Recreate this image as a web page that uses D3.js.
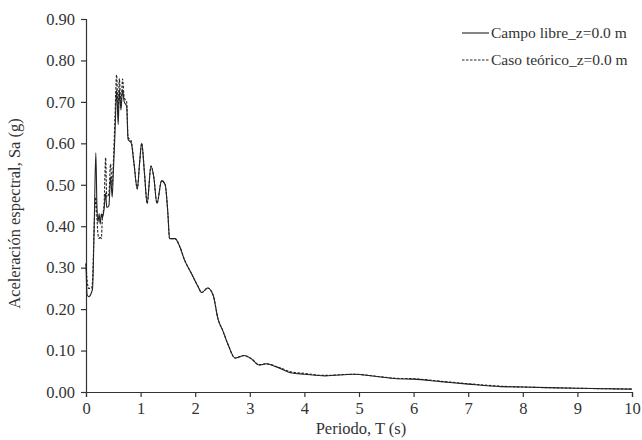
<!DOCTYPE html>
<html>
<head>
<meta charset="utf-8">
<script src="https://cdn.jsdelivr.net/npm/d3@7"></script>
<style>
  body { margin: 0; background: #fff; }
  text { font-family: "Liberation Serif", "DejaVu Serif", serif; fill: #333; }
</style>
</head>
<body>
<svg id="chart" width="642" height="440"></svg>
<script>
// periodo T (s)
const periods = [0, 0.02, 0.05, 0.1, 0.12, 0.15, 0.18, 0.2, 0.22, 0.24, 0.26, 0.28, 0.3, 0.33, 0.36, 0.38, 0.42, 0.45, 0.48, 0.5,
  0.53, 0.56, 0.59, 0.61, 0.64, 0.67, 0.7, 0.745, 0.77, 0.83, 0.88, 0.94, 0.98, 1.02, 1.07, 1.12, 1.19, 1.24, 1.3, 1.385,
  1.45, 1.5, 1.53, 1.63, 1.72, 1.8, 1.935, 2.05, 2.12, 2.23, 2.33, 2.42, 2.5, 2.6, 2.73, 2.9, 3.03, 3.17, 3.3, 3.5,
  3.77, 4.0, 4.38, 4.9, 5.3, 5.69, 6.0, 6.5, 7.0, 7.6, 8.0, 9.0, 10.0];

// Sa (g) - campo libre
const campoLibre = [0.31, 0.235, 0.23, 0.24, 0.25, 0.40, 0.577, 0.45, 0.41, 0.43, 0.405, 0.43, 0.42, 0.44, 0.48, 0.445, 0.45, 0.52, 0.47, 0.53,
  0.62, 0.73, 0.645, 0.73, 0.68, 0.73, 0.70, 0.69, 0.61, 0.60, 0.55, 0.49, 0.55, 0.60, 0.53, 0.455, 0.545, 0.52, 0.455, 0.51,
  0.50, 0.43, 0.37, 0.37, 0.35, 0.32, 0.285, 0.255, 0.24, 0.251, 0.233, 0.175, 0.15, 0.115, 0.082, 0.088, 0.08, 0.065, 0.068, 0.06,
  0.046, 0.043, 0.039, 0.043, 0.038, 0.032, 0.031, 0.025, 0.019, 0.013, 0.012, 0.009, 0.007];

// Sa (g) - caso teorico
const casoTeorico = [0.31, 0.27, 0.25, 0.25, 0.27, 0.40, 0.47, 0.42, 0.38, 0.37, 0.375, 0.37, 0.42, 0.45, 0.565, 0.47, 0.48, 0.55, 0.50, 0.55,
  0.66, 0.765, 0.67, 0.757, 0.69, 0.755, 0.71, 0.70, 0.615, 0.605, 0.55, 0.49, 0.55, 0.60, 0.53, 0.455, 0.545, 0.52, 0.455, 0.51,
  0.50, 0.43, 0.37, 0.37, 0.35, 0.32, 0.285, 0.255, 0.24, 0.251, 0.233, 0.175, 0.15, 0.115, 0.082, 0.088, 0.08, 0.066, 0.068, 0.061,
  0.048, 0.045, 0.04, 0.043, 0.038, 0.033, 0.032, 0.026, 0.02, 0.014, 0.012, 0.009, 0.007];

const xTicks = d3.range(0, 11, 1);
const yTicks = d3.range(0, 0.91, 0.1);
const legendLabels = ["Campo libre_z=0.0 m", "Caso teórico_z=0.0 m"];

const svg = d3.select("#chart");

const x = d3.scaleLinear().domain([0, 10]).range([86, 632]);
const y = d3.scaleLinear().domain([0, 0.9]).range([392, 19]);

// axes
const xAxis = svg.append("g")
  .attr("transform", `translate(0,${y(0)})`)
  .call(d3.axisBottom(x).tickValues(xTicks).tickFormat(d3.format("d")).tickSize(5).tickPadding(5));
const yAxis = svg.append("g")
  .attr("transform", `translate(${x(0)},0)`)
  .call(d3.axisLeft(y).tickValues(yTicks).tickFormat(d3.format(".2f")).tickSize(5).tickPadding(6));

[xAxis, yAxis].forEach(ax => {
  ax.select(".domain").attr("stroke", "#333").attr("stroke-width", 1.2);
  ax.selectAll(".tick line").attr("stroke", "#333").attr("stroke-width", 1.2);
  ax.selectAll(".tick text").attr("font-size", 16.5).attr("fill", "#333")
    .style("font-family", '"Liberation Serif", serif');
});

// axis titles
svg.append("text")
  .attr("x", (x(0) + x(10)) / 2 + 2).attr("y", 434)
  .attr("text-anchor", "middle").attr("font-size", 16.5)
  .text("Periodo, T (s)");
svg.append("text")
  .attr("transform", `translate(20,${(y(0) + y(0.9)) / 2 + 8}) rotate(-90)`)
  .attr("text-anchor", "middle").attr("font-size", 16.5)
  .text("Aceleración espectral, Sa (g)");

// series
const line = d3.line()
  .x((d, i) => x(periods[i]))
  .y(d => y(d))
  .curve(d3.curveMonotoneX);

svg.append("path")
  .datum(casoTeorico)
  .attr("fill", "none").attr("stroke", "#222").attr("stroke-width", 1.1)
  .attr("stroke-dasharray", "2.5,1.5")
  .attr("d", line);

svg.append("path")
  .datum(campoLibre)
  .attr("fill", "none").attr("stroke", "#222").attr("stroke-width", 1.1)
  .attr("d", line);

// legend
const legend = svg.append("g");
legendLabels.forEach((lbl, i) => {
  const ly = 33 + i * 27;
  legend.append("line")
    .attr("x1", 462).attr("x2", 489).attr("y1", ly).attr("y2", ly)
    .attr("stroke", "#222").attr("stroke-width", 1.1)
    .attr("stroke-dasharray", i == 1 ? "2.5,1.5" : null);
  legend.append("text")
    .attr("x", 491).attr("y", ly + 5)
    .attr("font-size", 15.5)
    .text(lbl);
});
</script>
</body>
</html>
